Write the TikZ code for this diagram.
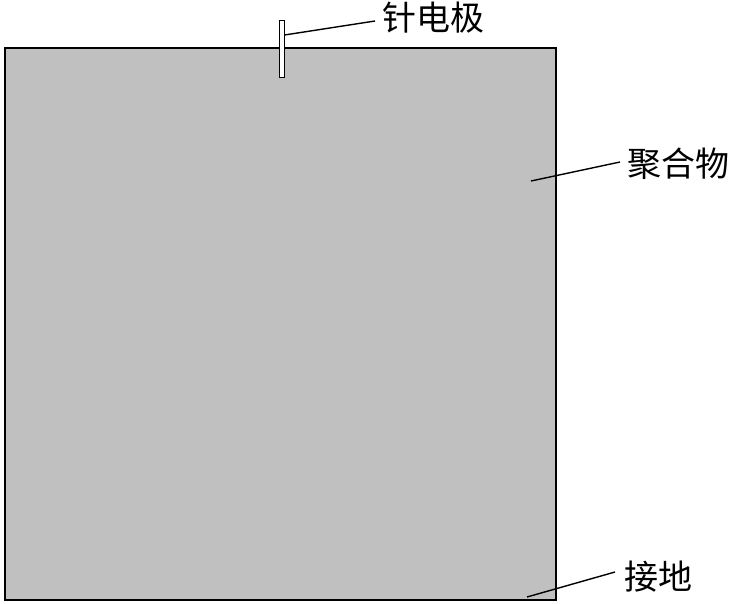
\documentclass[tikz,border=0pt]{standalone}
\usepackage{fontspec}
\newfontfamily\cjk{Noto Sans CJK SC}
\usetikzlibrary{positioning}
\definecolor{polygray}{RGB}{192,192,192}

\begin{document}
\begin{tikzpicture}[x=1pt,y=-1pt,
    lbl/.style={font=\cjk\fontsize{34}{36}\selectfont, inner sep=0pt, anchor=west},
    leader/.style={line width=1.4pt}]
    \useasboundingbox (0,0) rectangle (731,603);
    % sample block and needle
    \node[draw, line width=2pt, fill=polygray, minimum width=551pt, minimum height=552pt, inner sep=0pt] (polymer) at (280.5,324) {};
    \node[draw, fill=white, line width=1pt, minimum width=5pt, minimum height=57pt, inner sep=0pt] (needle) at (281.5,48.5) {};
    % labels
    \node[lbl] (needlelbl) at (382,18) {针电极};
    \node[lbl] (polylbl) at (627,164) {聚合物};
    \node[lbl] (groundlbl) at (624,577) {接地};
    \coordinate (p1) at (531,181);
    \coordinate (g1) at (527,597);
    \draw[leader] (needle.east |- 0,35) -- ([xshift=-7pt]needlelbl.west |- 0,21);
    \draw[leader] (p1) -- ([xshift=-7pt,yshift=2pt]polylbl.west);
    \draw[leader] (g1) -- ([xshift=-9pt,yshift=5pt]groundlbl.west);
\end{tikzpicture}
\end{document}
